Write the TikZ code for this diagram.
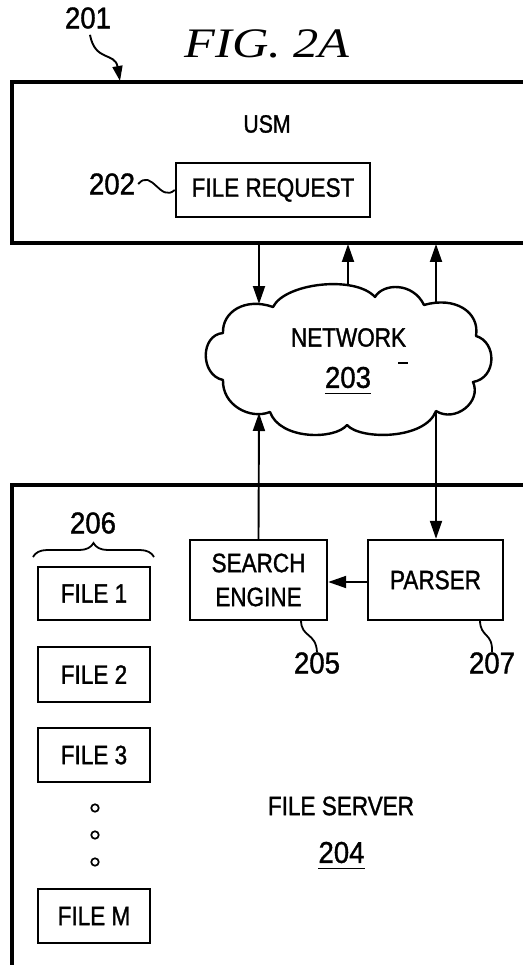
\documentclass[tikz,border=0pt]{standalone}
\usepackage{fontspec}
\setmainfont{Liberation Sans}[FakeStretch=0.85, FakeBold=1.2]
\newfontfamily\numfont{Liberation Sans}[FakeStretch=0.92, FakeBold=1.2]
\newfontfamily\figfont{Liberation Serif}[FakeStretch=1.2]
\usetikzlibrary{arrows.meta,decorations.pathreplacing}

\tikzset{
  frame/.style={line width=3.2pt},
  box/.style={draw, line width=2.4pt, inner sep=0pt, align=center},
  lbl/.style={inner sep=0pt, align=center, font=\fontsize{26.5}{34}\selectfont},
  usmlbl/.style={inner sep=0pt, font=\fontsize{25}{28}\selectfont},
  num/.style={inner sep=0pt, font=\numfont\fontsize{30}{34}\selectfont},
  link/.style={line width=1.9pt},
  arr/.style={link, -{Triangle[length=18pt,width=12pt]}},
  lead/.style={line width=1.8pt},
  dot/.style={circle, draw, line width=1.7pt, minimum size=7.5pt, inner sep=0pt},
  cloudline/.style={line width=2.4pt, line join=round}
}

\begin{document}
\begin{tikzpicture}[x=1pt, y=-1pt]
\useasboundingbox (0,0) rectangle (522,965);

% title
\node[inner sep=0pt, font=\figfont\itshape\fontsize{42}{46}\selectfont] (title) at (267,44) {FIG. 2A};

% USM frame (open to the right)
\coordinate (usmTR) at (524,82);
\coordinate (usmBR) at (524,243);
\draw[frame] (usmTR) -| (12,243) -- (usmBR);
\coordinate (u201) at (120,81);
\coordinate (u1) at (259,244);
\coordinate (u2) at (348,244);
\coordinate (u3) at (436,244);

\node[usmlbl] (usm) at (267,124) {USM};
\node[box, lbl, minimum width=194pt, minimum height=54pt] (req) at (273,190) {FILE REQUEST};

% reference numerals of the USM
\node[num] (n201) at (88,18) {201};
\draw[link, -{Triangle[length=15pt,width=10pt]}] (n201.south) ++(2,6) .. controls (95,62) and (115,52) .. (u201);
\node[num] (n202) at (112,184) {202};
\draw[lead] (n202.east) ++(3,0) .. controls (152,168) and (160,203) .. (req.west);

% network cloud
\draw[cloudline]
  (223,333) .. controls (222,312) and (245,297) .. (273,307)
  .. controls (285,283) and (355,275) .. (375,297)
  .. controls (383,283) and (413,282) .. (424,305)
  .. controls (455,296) and (480,312) .. (476,336)
  .. controls (497,342) and (497,378) .. (473,382)
  .. controls (482,402) and (455,423) .. (436,411)
  .. controls (425,440) and (360,440) .. (347,425)
  .. controls (335,440) and (280,440) .. (270,412)
  .. controls (250,420) and (222,405) .. (223,380)
  .. controls (200,375) and (200,335) .. (223,333) -- cycle;
\coordinate (c1) at (259,304);
\coordinate (c2) at (348,285);
\coordinate (c3) at (436,302);
\coordinate (c4) at (259,413);
\coordinate (c5) at (436,412);

\node[lbl] (net) at (348.5,337.5) {NETWORK};
\node[num] (n203) at (348,377.5) {203};
\draw[line width=1.6pt] ([yshift=-5pt]n203.south west) -- ([yshift=-5pt]n203.south east);
\draw[line width=1.6pt] (398,363) -- (408,363);

% links between USM and network
\draw[arr] (u1) -- (c1);
\draw[arr] (c2) -- (u2);
\draw[arr] (c3) -- (u3);

% file server frame (open to the right and bottom)
\coordinate (fsTR) at (524,485);
\coordinate (fsBL) at (12,967);
\draw[frame] (fsTR) -| (fsBL);

\node[box, lbl, minimum width=137pt, minimum height=80pt] (search) at (258.5,580) {SEARCH\\ENGINE};
\node[box, lbl, minimum width=135pt, minimum height=80pt] (parser) at (435.5,580) {PARSER};

\draw[arr] (search.north) -- (c4);
\draw[arr] (c5) -- (parser.north -| c5);
\draw[arr] (parser.west |- 0,582) -- (search.east |- 0,582);

\node[num] (n205) at (317,663) {205};
\node[num] (n207) at (492,663) {207};
\draw[lead] (301,620) .. controls (301,638) and (316,632) .. (n205.north);
\draw[lead] (480,620) .. controls (480,638) and (493,632) .. (n207.north);

% stored files
\node[num] (n206) at (93,523) {206};
\draw[decorate, decoration={brace, amplitude=14pt}, line width=1.8pt] (33,557) -- (154,557);

\node[box, lbl, minimum width=112pt, minimum height=53pt] (f1) at (94,593.5) {FILE 1};
\node[box, lbl, minimum width=112pt, minimum height=55pt] (f2) at (94,674.5) {FILE 2};
\node[box, lbl, minimum width=112pt, minimum height=54pt] (f3) at (94,755) {FILE 3};
\node[dot] (d1) at (95,808) {};
\node[dot] (d2) at (95,835) {};
\node[dot] (d3) at (95,862) {};
\node[box, lbl, minimum width=112pt, minimum height=54pt] (fm) at (94,916) {FILE M};

\node[lbl] (fsrv) at (341,806) {FILE SERVER};
\node[num] (n204) at (341.5,852.5) {204};
\draw[line width=1.6pt] ([yshift=-5pt]n204.south west) -- ([yshift=-5pt]n204.south east);
\end{tikzpicture}
\end{document}
